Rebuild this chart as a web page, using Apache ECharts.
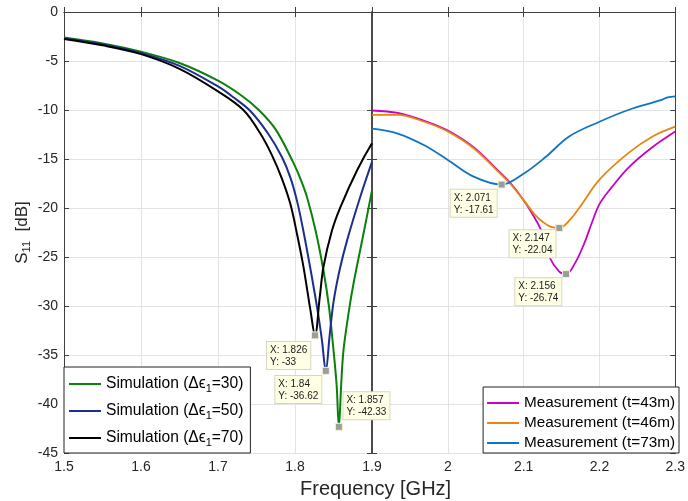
<!DOCTYPE html>
<html><head><meta charset="utf-8">
<script src="https://cdn.jsdelivr.net/npm/echarts@6/dist/echarts.min.js"></script>
<style>html,body{margin:0;padding:0;background:#fff}#c{width:688px;height:501px}</style>
</head><body><div id="c"></div>
<script>
// ---- data ----
const simNames = ['Simulation (Δϵ1=30)', 'Simulation (Δϵ1=50)', 'Simulation (Δϵ1=70)'];
const sim30F = [1.5,1.55,1.6,1.65,1.7,1.73,1.753,1.775,1.798,1.808,1.816,1.827,1.837,1.844,1.85,1.854,1.857,1.86,1.863,1.87,1.876,1.889,1.9];
const sim30S = [-2.6,-3.2,-4.05,-5.2,-7.0,-8.5,-10,-12.0,-15.4,-17.2,-19.0,-22.4,-26.4,-30,-34.5,-38,-42.33,-38,-34.5,-30.5,-27.7,-22.6,-18.2];
const sim50F = [1.5,1.55,1.6,1.65,1.7,1.72,1.742,1.765,1.783,1.794,1.803,1.811,1.82,1.829,1.835,1.84,1.845,1.85,1.858,1.868,1.885,1.9];
const sim50S = [-2.7,-3.3,-4.2,-5.5,-7.6,-8.7,-10.1,-12.4,-14.8,-16.9,-19.4,-22.4,-26.2,-30.3,-33.5,-36.62,-33,-29.6,-26.3,-23.2,-18.8,-15.3];
const sim70F = [1.5,1.55,1.6,1.65,1.7,1.733,1.755,1.77,1.783,1.794,1.803,1.811,1.82,1.826,1.832,1.837,1.848,1.859,1.881,1.9];
const sim70S = [-2.75,-3.4,-4.3,-5.8,-8.1,-10,-12.4,-14.6,-17.0,-19.6,-22.8,-26,-30.4,-33,-29.2,-26,-22.3,-19.9,-16.1,-13.4];

const measNames = ['Measurement (t=43m)', 'Measurement (t=46m)', 'Measurement (t=73m)'];
const m43F = [1.9,1.934,1.969,2.0,2.034,2.064,2.082,2.1,2.116,2.125,2.134,2.147,2.156,2.168,2.18,2.19,2.2,2.216,2.238,2.268,2.3];
const m43S = [-10.05,-10.3,-11.1,-12.1,-13.8,-16.0,-17.4,-19.2,-21.2,-22.6,-25.0,-26.5,-26.74,-25.6,-23.6,-21.5,-19.6,-17.9,-15.9,-13.9,-12.2];
const m46F = [1.9,1.934,1.969,2.0,2.034,2.064,2.082,2.1,2.115,2.125,2.135,2.147,2.16,2.175,2.2,2.238,2.27,2.3];
const m46S = [-10.5,-10.5,-11.2,-12.2,-13.9,-16.1,-17.5,-19.2,-20.7,-21.4,-21.9,-22.04,-21.3,-19.8,-17.1,-14.4,-12.7,-11.7];
const m73F = [1.9,1.934,1.969,2.0,2.034,2.071,2.1,2.129,2.16,2.2,2.238,2.281,2.29,2.3];
const m73S = [-11.9,-12.4,-13.6,-15.1,-16.8,-17.61,-16.5,-14.8,-12.7,-11.2,-10.0,-9.0,-8.7,-8.6];

// data tips
const tipSimX = [1.857, 1.84, 1.826];
const tipSimY = [-42.33, -36.62, -33];
const tipMeasX = [2.156, 2.147, 2.071];
const tipMeasY = [-26.74, -22.04, -17.61];

const xTicksLeft = [1.5, 1.9];
const xTicksRight = [1.9, 2.3];
const yRange = [-45, 0];

// ---- style ----
const FONT = 'Liberation Sans';
const simColors = ['#0b800b', '#1c2f8f', '#000000'];
const measColors = ['#c800c8', '#e8850f', '#0f74c2'];
const tipOffsetsSim = [[8.5, -30.5], [-46.5, 9], [-44, 10.5]];
const tipOffsetsMeas = [[-46.8, 8.2], [-45.8, 6.2], [-47, 9.2]];

function zip(a, b) { return a.map((v, i) => [v, b[i]]); }
function fmtTip(x, y) { return 'X: ' + x + '\nY: ' + y; }

function tip(x, y, off) {
  return {
    symbol: 'rect', symbolSize: 7,
    itemStyle: { color: '#9c9c9c', borderColor: '#f2f2d8', borderWidth: 1 },
    data: [{ coord: [x, y] }],
    label: {
      show: true, position: off, formatter: fmtTip(x, y),
      fontFamily: FONT, fontSize: 10, lineHeight: 12, color: '#1a1a1a',
      backgroundColor: '#ffffe6', borderColor: '#d6d6c4', borderWidth: 1,
      padding: [2, 3, 1, 3], align: 'left', verticalAlign: 'top'
    },
    silent: true, animation: false, z: 20
  };
}

const simF = [sim30F, sim50F, sim70F], simS = [sim30S, sim50S, sim70S];
const measF = [m43F, m46F, m73F], measS = [m43S, m46S, m73S];

const series = [];
simNames.forEach((n, i) => series.push({
  name: n, type: 'line', xAxisIndex: 0, yAxisIndex: 0,
  data: zip(simF[i], simS[i]), showSymbol: false, symbol: 'none',
  smooth: 0.35,
  lineStyle: { color: simColors[i], width: 2 }, itemStyle: { color: simColors[i] },
  markPoint: tip(tipSimX[i], tipSimY[i], tipOffsetsSim[i]), z: 3
}));
measNames.forEach((n, i) => series.push({
  name: n, type: 'line', xAxisIndex: 1, yAxisIndex: 2,
  data: zip(measF[i], measS[i]), showSymbol: false, symbol: 'none',
  smooth: 0.35,
  lineStyle: { color: measColors[i], width: 1.8 }, itemStyle: { color: measColors[i] },
  markPoint: tip(tipMeasX[i], tipMeasY[i], tipOffsetsMeas[i]), z: 3
}));

const AX = '#404040', GRIDC = '#e3e3e3', LBL = '#262626';
function xAx(grid, min, max, pos, labels, split, hideMin) {
  return {
    type: 'value', gridIndex: grid, min: min, max: max, interval: 0.1, position: pos,
    axisLine: { show: true, lineStyle: { color: AX, width: 1 } },
    axisTick: { show: true, inside: true, length: 5, lineStyle: { color: AX } },
    axisLabel: { show: labels, fontFamily: FONT, fontSize: 14, color: LBL, margin: 7, showMinLabel: !hideMin },
    splitLine: { show: split, lineStyle: { color: GRIDC, width: 1 } }
  };
}
function yAx(grid, pos, labels, split, w) {
  return {
    type: 'value', gridIndex: grid, min: yRange[0], max: yRange[1], interval: 5, position: pos,
    axisLine: { show: true, onZero: false, lineStyle: { color: AX, width: w || 1 } },
    axisTick: { show: true, inside: true, length: 5, lineStyle: { color: AX } },
    axisLabel: { show: labels, fontFamily: FONT, fontSize: 14, color: LBL, margin: 6 },
    splitLine: { show: split, lineStyle: { color: GRIDC, width: 1 } }
  };
}

const yAxes = [yAx(0, 'left', true, true), yAx(0, 'right', false, false, 1.5),
               yAx(1, 'left', false, true, 1.5), yAx(1, 'right', false, false)];
yAxes[0].name = '{s|S}{sub|11}{s|  [dB]}';
yAxes[0].nameLocation = 'middle';
yAxes[0].nameGap = 32;
yAxes[0].nameTextStyle = { rich: { s: { fontFamily: FONT, fontSize: 17, color: LBL },
  sub: { fontFamily: FONT, fontSize: 11, color: LBL, padding: [9, 0, 0, 0] } } };

const legendRich = { rich: { sub: { fontFamily: FONT, fontSize: 11, color: '#000', padding: [9, 0, 0, 0] } } };

const option = {
  animation: false,
  backgroundColor: '#fff',
  title: { text: 'Frequency [GHz]', left: 295, top: 474,
    textStyle: { fontFamily: FONT, fontSize: 20, fontWeight: 'normal', color: LBL } },
  grid: [
    { left: 64, top: 12, width: 308, height: 441 },
    { left: 372, top: 12, width: 307, height: 441 }
  ],
  xAxis: [xAx(0, xTicksLeft[0], xTicksLeft[1], 'bottom', true, true, false),
          xAx(1, xTicksRight[0], xTicksRight[1], 'bottom', true, true, true),
          xAx(0, xTicksLeft[0], xTicksLeft[1], 'top', false, false, false),
          xAx(1, xTicksRight[0], xTicksRight[1], 'top', false, false, false)],
  yAxis: yAxes,
  legend: [
    { data: simNames, orient: 'vertical', left: 64, bottom: 48, itemWidth: 32, itemHeight: 2, icon: 'rect',
      itemGap: 9, padding: [9, 7, 5, 5], backgroundColor: '#fff', borderColor: '#222', borderWidth: 1,
      textStyle: Object.assign({ fontFamily: FONT, fontSize: 15.6, color: '#000', lineHeight: 16 }, legendRich),
      formatter: n => n.replace('ϵ1', 'ϵ{sub|1}'), selectedMode: false, z: 30 },
    { data: measNames, orient: 'vertical', right: 9, bottom: 48, itemWidth: 32, itemHeight: 2, icon: 'rect',
      itemGap: 4, padding: [8, 4, 2, 4], backgroundColor: '#fff', borderColor: '#222', borderWidth: 1,
      textStyle: { fontFamily: FONT, fontSize: 15.3, color: '#000', lineHeight: 16 }, selectedMode: false, z: 30 }
  ],
  series: series
};
echarts.init(document.getElementById('c'), null, { renderer: 'canvas' }).setOption(option);
</script></body></html>
